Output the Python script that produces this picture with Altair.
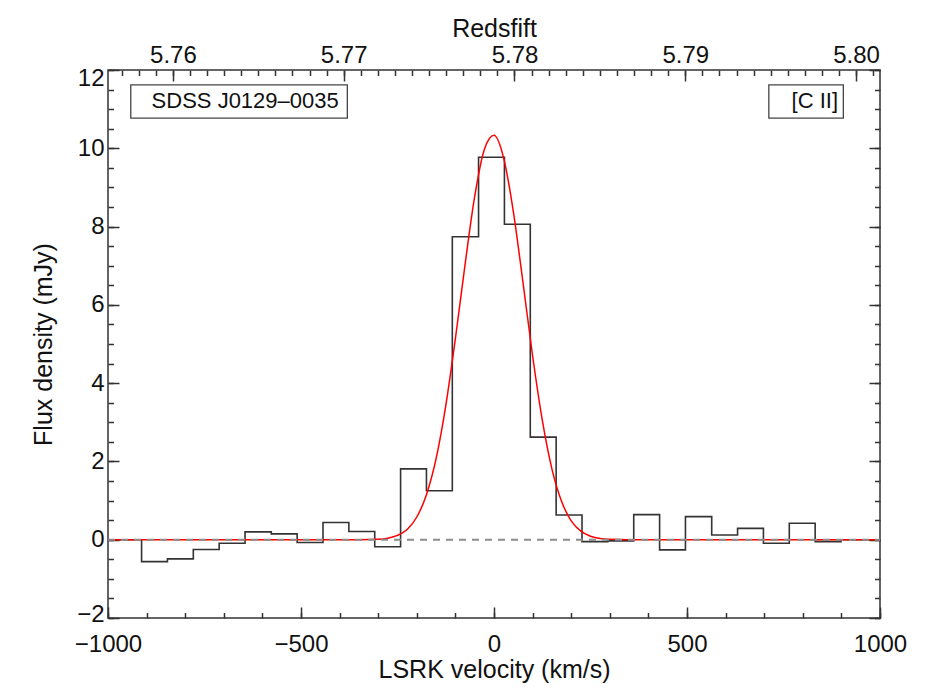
import altair as alt
import pandas as pd

# ---------------- data ----------------
# channel edges (km/s) of the histogram spectrum and the flux density (mJy) of each channel
CHANNEL_EDGES = [-1000, -913, -846, -779, -712, -645, -577, -510, -443, -376, -309,
                 -242, -175, -108, -40, 27, 94, 161, 228, 295, 362, 429, 496, 564,
                 631, 698, 765, 832, 899, 1000]
CHANNEL_FLUX = [0.0, -0.56, -0.49, -0.25, -0.09, 0.20, 0.15, -0.07, 0.44, 0.21, -0.18,
                1.81, 1.25, 7.74, 9.77, 8.06, 2.62, 0.63, -0.05, -0.03, 0.64, -0.26,
                0.59, 0.12, 0.29, -0.09, 0.42, -0.05, 0.0]

# red Gaussian fit
FIT_VEL = [-1000, -400, -350, -300, -275, -250, -225, -200, -175, -150, -125, -100,
           -75, -50, -25, 0, 25, 50, 75, 100, 125, 150, 175, 200, 225, 250, 275,
           300, 350, 400, 1000]
FIT_FLUX = [0.0, 0.0, 0.0, 0.01, 0.04, 0.11, 0.26, 0.58, 1.15, 2.07, 3.42, 5.14,
            7.03, 8.77, 9.97, 10.33, 9.75, 8.39, 6.58, 4.70, 3.06, 1.81, 0.98, 0.48,
            0.22, 0.09, 0.03, 0.01, 0.0, 0.0, 0.0]

# annotation boxes / labels
LABEL_TEXT = ["SDSS J0129\u20130035", "[C II]"]
LABEL_VEL = [-887, 771]
LABEL_FLUX = [11.2, 11.2]
BOX_X1 = [-941, 712]
BOX_X2 = [-380, 905]
BOX_Y1 = [10.77, 10.77]
BOX_Y2 = [11.62, 11.62]

# axes
VEL_DOMAIN = [-1000, 1000]
FLUX_DOMAIN = [-2, 12]
Z_DOMAIN = [5.7562, 5.8014]
VEL_TICKS = [-1000, -500, 0, 500, 1000]
VEL_MINOR = [-1000 + 100 * i for i in range(21)]
FLUX_TICKS = [-2, 0, 2, 4, 6, 8, 10, 12]
FLUX_MINOR = [-2 + 0.5 * i for i in range(29)]
Z_TICKS = [5.76, 5.77, 5.78, 5.79, 5.80]
Z_MINOR = [round(5.757 + 0.001 * i, 3) for i in range(45)]

W, H = 772, 548
FONT = "Liberation Sans"
TICK_MAJOR, TICK_MINOR = 11, 5.5

hist_df = pd.DataFrame({"vel": CHANNEL_EDGES, "flux": CHANNEL_FLUX + [CHANNEL_FLUX[-1]]})
fit_df = pd.DataFrame({"vel": FIT_VEL, "flux": FIT_FLUX})
zero_df = pd.DataFrame({"vel": VEL_DOMAIN, "flux": [0, 0]})
box_df = pd.DataFrame({"x1": BOX_X1, "x2": BOX_X2, "y1": BOX_Y1, "y2": BOX_Y2})
label_df = pd.DataFrame({"vel": LABEL_VEL, "flux": LABEL_FLUX, "text": LABEL_TEXT})
z_df = pd.DataFrame({"z": Z_TICKS})

VSCALE = alt.Scale(domain=VEL_DOMAIN, nice=False, zero=False)
FSCALE = alt.Scale(domain=FLUX_DOMAIN, nice=False, zero=False)
ZSCALE = alt.Scale(domain=Z_DOMAIN, nice=False, zero=False)


def tick_axis(orient, offset, values, size):
    return alt.Axis(orient=orient, offset=offset, values=values, tickSize=size,
                    ticks=True, labels=False, domain=False, grid=False, title=None)


# layer 1: histogram + labelled bottom / left axes
hist = alt.Chart(hist_df).mark_line(
    interpolate="step-after", color="#333333", strokeWidth=1.6
).encode(
    x=alt.X("vel:Q", scale=VSCALE, axis=alt.Axis(
        orient="bottom", values=VEL_TICKS, ticks=False, tickSize=0, labelPadding=14,
        domain=False, grid=False, labelFlush=False, format="d",
        title="LSRK velocity (km/s)", titlePadding=1)),
    y=alt.Y("flux:Q", scale=FSCALE, axis=alt.Axis(
        orient="left", values=FLUX_TICKS, ticks=False, tickSize=0, labelPadding=4,
        domain=False, grid=False, labelFlush=False, format="d",
        labelOffset={"condition": [{"test": "datum.value == 12", "value": 8},
                                   {"test": "datum.value == -2", "value": -4}],
                     "value": 0},
        title="Flux density (mJy)", titlePadding=20)),
)

# layer 2: Gaussian fit + inward major ticks (bottom, left)
fit = alt.Chart(fit_df).mark_line(
    interpolate="monotone", color="#ff0000", strokeWidth=1.5
).encode(
    x=alt.X("vel:Q", scale=VSCALE, axis=tick_axis("top", -H, VEL_TICKS, TICK_MAJOR)),
    y=alt.Y("flux:Q", scale=FSCALE, axis=tick_axis("right", -W, FLUX_TICKS, TICK_MAJOR)),
)

# layer 3: dashed zero level + inward minor ticks (bottom, left)
zero = alt.Chart(zero_df).mark_line(
    color="#8c8c8c", strokeWidth=2, strokeDash=[7, 6]
).encode(
    x=alt.X("vel:Q", scale=VSCALE, axis=tick_axis("top", -H, VEL_MINOR, TICK_MINOR)),
    y=alt.Y("flux:Q", scale=FSCALE, axis=tick_axis("right", -W, FLUX_MINOR, TICK_MINOR)),
)

# layer 4: label boxes + inward major ticks on right side
boxes = alt.Chart(box_df).mark_rect(
    filled=False, stroke="#444444", strokeWidth=1.3
).encode(
    x=alt.X("x1:Q", scale=VSCALE, axis=None),
    x2="x2:Q",
    y=alt.Y("y1:Q", scale=FSCALE, axis=tick_axis("left", -W, FLUX_TICKS, TICK_MAJOR)),
    y2="y2:Q",
)

# layer 5: label texts + inward minor ticks on right side
labels = alt.Chart(label_df).mark_text(
    align="left", baseline="middle", font=FONT, fontSize=22, color="#111111"
).encode(
    x=alt.X("vel:Q", scale=VSCALE, axis=None),
    y=alt.Y("flux:Q", scale=FSCALE, axis=tick_axis("left", -W, FLUX_MINOR, TICK_MINOR)),
    text="text:N",
)

# layers 6-8: redshift axis on top
z_labels = alt.Chart(z_df).mark_point(opacity=0).encode(
    x=alt.X("z:Q", scale=ZSCALE, axis=alt.Axis(
        orient="top", values=Z_TICKS, ticks=False, tickSize=0, labelPadding=3,
        domain=False, grid=False, labelFlush=False, format=".2f",
        title="Redsfift", titlePadding=2)),
)
z_major = alt.Chart(z_df).mark_point(opacity=0).encode(
    x=alt.X("z:Q", scale=ZSCALE, axis=tick_axis("bottom", -H, Z_TICKS, TICK_MAJOR)),
)
z_minor = alt.Chart(z_df).mark_point(opacity=0).encode(
    x=alt.X("z:Q", scale=ZSCALE, axis=tick_axis("bottom", -H, Z_MINOR, TICK_MINOR)),
)

chart = alt.layer(
    hist, fit, zero, boxes, labels, z_labels, z_major, z_minor
).resolve_scale(
    x="independent", y="shared"
).resolve_axis(
    x="independent", y="independent"
).properties(
    width=W, height=H,
    autosize=alt.AutoSizeParams(type="none"),
    padding={"left": 100, "top": 62, "right": 40, "bottom": 65},
).configure(
    background="white", font=FONT
).configure_view(
    stroke="#333333", strokeWidth=1.5
).configure_axis(
    labelFont=FONT, labelFontSize=24, labelColor="#111111",
    titleFont=FONT, titleFontSize=25, titleFontWeight="normal", titleColor="#111111",
    tickColor="#333333", tickWidth=1.5,
)

chart.save("out.html", embed_options={"renderer": "svg", "actions": False})
